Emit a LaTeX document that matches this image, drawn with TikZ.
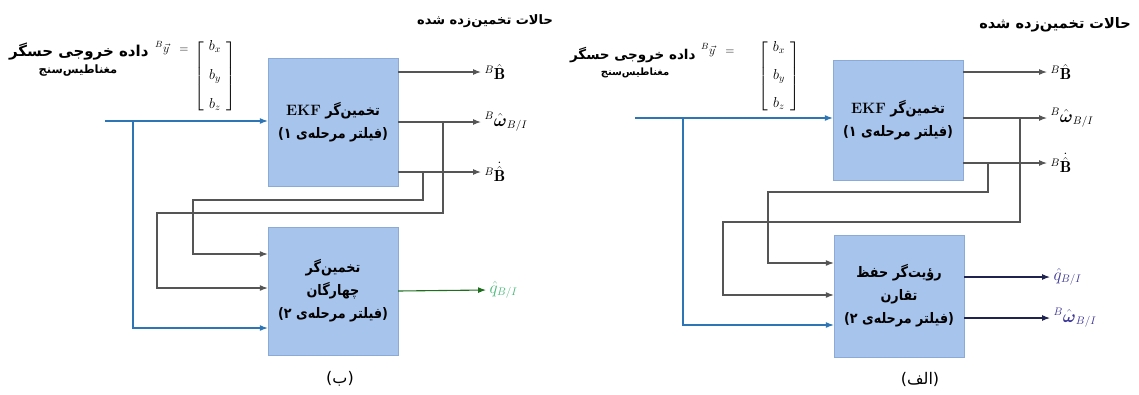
\documentclass[tikz,border=0pt]{standalone}
\usepackage{amsmath}
\usepackage{fontspec}
\usepackage{tikz}
\usetikzlibrary{arrows.meta,positioning}
\TeXXeTstate=1
\newfontfamily\fa[Script=Arabic]{DejaVu Sans}
\newfontfamily\facond[Script=Arabic, FakeStretch=0.88]{DejaVu Sans}
\newcommand{\ekfname}{{\normalfont\bfseries\fontsize{15}{23}\selectfont EKF}}
\definecolor{boxblue}{RGB}{167,196,236}
\definecolor{boxedge}{RGB}{140,170,215}
\definecolor{lineblue}{RGB}{46,117,182}
\definecolor{linegray}{RGB}{85,85,85}
\definecolor{qgreen}{RGB}{30,110,30}
\definecolor{qlight}{RGB}{70,185,120}
\definecolor{navy}{RGB}{30,35,80}
\definecolor{labpurple}{RGB}{60,55,150}

\begin{document}
\begin{tikzpicture}[
  x=1pt, y=-1pt,
  block/.style={rectangle, draw=boxedge, fill=boxblue, align=center, minimum width=130pt, inner sep=2pt, font=\facond\bfseries\fontsize{14.5}{23}\selectfont},
  falabel/.style={font=\fa\bfseries\fontsize{13}{15}\selectfont},
  arrow/.style={-Latex, line width=1.1pt, draw=linegray},
  inarrow/.style={-Latex, line width=1.1pt, draw=lineblue},
  outlabel/.style={anchor=west, font=\fontsize{16}{18}\selectfont},
  vecmat/.style={font=\fontsize{13}{15}\selectfont}
]
\useasboundingbox (0,0) rectangle (1139,394);

% ---- (b) ----
\node[block, minimum height=128pt] (ekfb) at (333,122) {\beginR تخمین‌گر \beginL\ekfname\endL\endR\\\beginR(فیلتر مرحله‌ی ۱)\endR};
\node[block, minimum height=128pt] (qestb) at (333,291) {\beginR تخمین‌گر\endR\\\beginR چهارگان\endR\\\beginR(فیلتر مرحله‌ی ۲)\endR};
\node[falabel, anchor=east, font=\fa\bfseries\fontsize{15}{17}\selectfont] (sensb) at (152,52) {\beginR داده خروجی حسگر\endR};
\node[falabel, font=\fa\bfseries\fontsize{11.5}{13}\selectfont] (magb) at (78,71) {\beginR مغناطیس‌سنج\endR};
\node[vecmat, anchor=east] (yb) at (192,48) {${}^{B}\vec{y}\;\;=$};
\node[vecmat, font=\fontsize{14}{16}\selectfont] (mb) at (215,76) {$\left[\begin{array}{c}b_x\\[13pt]b_y\\[13pt]b_z\end{array}\right]$};
\node[falabel] (hdb) at (485,21) {\beginR حالات تخمین‌زده شده\endR};
\node[outlabel] (o1b) at (481,72) {${}^{B}\hat{\mathbf{B}}$};
\node[outlabel] (o2b) at (481,122) {${}^{B}\hat{\boldsymbol{\omega}}_{B/I}$};
\node[outlabel] (o3b) at (481,172) {${}^{B}\dot{\hat{\mathbf{B}}}$};
\node[outlabel, text=qlight] (qb) at (486,290) {$\hat{q}_{B/I}$};
\node[font=\fa\fontsize{16}{18}\selectfont] (capb) at (340,379) {\beginR(ب)\endR};

\coordinate (inb) at (105,121);
\coordinate (forkb) at (133,121);
\coordinate (j3b) at (423,172);
\coordinate (j2b) at (443,122);

\draw[inarrow] (inb) -- (ekfb.west |- inb);
\draw[inarrow] (forkb) |- ([yshift=-37pt]qestb.west);
\draw[arrow] (ekfb.east |- o1b) -- (o1b.west);
\draw[arrow] (ekfb.east |- o2b) -- (o2b.west);
\draw[arrow] (ekfb.east |- o3b) -- (o3b.west);
\draw[arrow] (j3b) -- (423,200) -- (193,200) |- ([yshift=37pt]qestb.west);
\draw[arrow] (j2b) -- (443,213) -- (157,213) |- ([yshift=3pt]qestb.west);
\fill[linegray] (193,213) circle (1.6pt);
\draw[arrow, draw=qgreen] (qestb.east) -- (qb.west);

% ---- (a) ----
\node[block, minimum height=120pt] (ekfa) at (898,120) {\beginR تخمین‌گر \beginL\ekfname\endL\endR\\\beginR(فیلتر مرحله‌ی ۱)\endR};
\node[block, minimum height=122pt] (obsa) at (899,296) {\beginR رؤیت‌گر حفظ\endR\\\beginR تقارن\endR\\\beginR(فیلتر مرحله‌ی ۲)\endR};
\node[falabel, anchor=east, font=\fa\bfseries\fontsize{13.5}{16}\selectfont] (sensa) at (699,55) {\beginR داده خروجی حسگر\endR};
\node[falabel, font=\fa\bfseries\fontsize{10}{12}\selectfont] (maga) at (635,73) {\beginR مغناطیس‌سنج\endR};
\node[vecmat, anchor=east] (ya) at (738,50) {${}^{B}\vec{y}\;\;=$};
\node[vecmat, font=\fontsize{14}{16}\selectfont] (ma) at (779,76) {$\left[\begin{array}{c}b_x\\[12pt]b_y\\[12pt]b_z\end{array}\right]$};
\node[falabel, font=\fa\bfseries\fontsize{14.5}{16}\selectfont] (hda) at (1055,25) {\beginR حالات تخمین‌زده شده\endR};
\node[outlabel] (o1a) at (1047,72) {${}^{B}\hat{\mathbf{B}}$};
\node[outlabel] (o2a) at (1047,118) {${}^{B}\hat{\boldsymbol{\omega}}_{B/I}$};
\node[outlabel] (o3a) at (1047,163) {${}^{B}\dot{\hat{\mathbf{B}}}$};
\node[outlabel, text=labpurple] (qa) at (1050,277) {$\hat{q}_{B/I}$};
\node[outlabel, text=labpurple] (wa) at (1050,318) {${}^{B}\hat{\boldsymbol{\omega}}_{B/I}$};
\node[font=\fa\fontsize{16}{18}\selectfont] (capa) at (920,379) {\beginR(الف)\endR};

\coordinate (ina) at (635,118);
\coordinate (forka) at (683,118);
\coordinate (j3a) at (988,163);
\coordinate (j2a) at (1020,118);

\draw[inarrow] (ina) -- (ekfa.west |- ina);
\draw[inarrow] (forka) |- ([yshift=-29pt]obsa.west);
\draw[arrow] (ekfa.east |- o1a) -- (o1a.west);
\draw[arrow] (ekfa.east |- o2a) -- (o2a.west);
\draw[arrow] (ekfa.east |- o3a) -- (o3a.west);
\draw[arrow] (j3a) -- (988,192) -- (768,192) |- ([yshift=33pt]obsa.west);
\draw[arrow] (j2a) -- (1020,222) -- (723,222) |- ([yshift=1pt]obsa.west);
\fill[linegray] (768,222) circle (1.6pt);
\draw[arrow, draw=navy] (obsa.east |- qa) -- (qa.west);
\draw[arrow, draw=navy] (obsa.east |- wa) -- (wa.west);
\end{tikzpicture}
\end{document}
